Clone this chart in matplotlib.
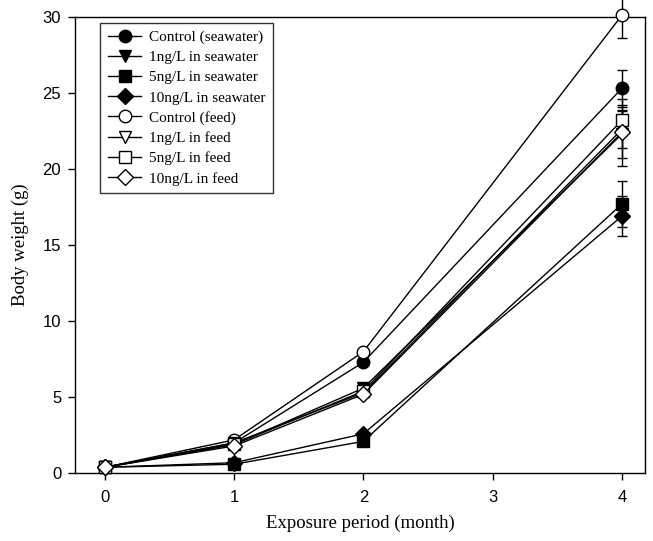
import matplotlib
matplotlib.use("Agg")
import matplotlib.pyplot as plt

months = [0, 1, 2, 4]
labels = ["Control (seawater)", "1ng/L in seawater", "5ng/L in seawater", "10ng/L in seawater",
          "Control (feed)", "1ng/L in feed", "5ng/L in feed", "10ng/L in feed"]
markers = ["o", "v", "s", "D", "o", "v", "s", "D"]
filled = [True, True, True, True, False, False, False, False]

ctrl_sw = [0.4, 2.0, 7.3, 25.3]
ng1_sw = [0.4, 1.9, 5.6, 22.3]
ng5_sw = [0.4, 0.6, 2.1, 17.7]
ng10_sw = [0.4, 0.7, 2.6, 16.9]
ctrl_fd = [0.4, 2.2, 8.0, 30.1]
ng1_fd = [0.4, 2.0, 5.3, 22.6]
ng5_fd = [0.4, 1.9, 5.4, 23.2]
ng10_fd = [0.4, 1.8, 5.2, 22.4]

err_ctrl_sw = [0, 0, 0, 1.2]
err_ng1_sw = [0, 0, 0, 1.6]
err_ng5_sw = [0, 0, 0, 1.5]
err_ng10_sw = [0, 0, 0, 1.3]
err_ctrl_fd = [0, 0, 0, 1.5]
err_ng1_fd = [0, 0, 0, 1.2]
err_ng5_fd = [0, 0, 0, 1.0]
err_ng10_fd = [0, 0, 0, 2.2]

series = [ctrl_sw, ng1_sw, ng5_sw, ng10_sw, ctrl_fd, ng1_fd, ng5_fd, ng10_fd]
errors = [err_ctrl_sw, err_ng1_sw, err_ng5_sw, err_ng10_sw, err_ctrl_fd, err_ng1_fd, err_ng5_fd, err_ng10_fd]

fig = plt.figure(figsize=(6.53, 5.41), dpi=100)
ax = fig.add_axes([0.115, 0.125, 0.873, 0.844])

for y, e, lab, m, f in zip(series, errors, labels, markers, filled):
    ms = 9 if m != "D" else 8
    ax.errorbar(months, y, yerr=e, color="black", lw=1.0, marker=m, ms=ms,
                mfc="black" if f else "white", mec="black", mew=1.0,
                capsize=3.5, elinewidth=1.0, capthick=1.0, label=lab, clip_on=False, zorder=3)

ax.set_xlim(-0.23, 4.18)
ax.set_ylim(0, 30)
ax.set_xticks([0, 1, 2, 3, 4])
ax.set_yticks([0, 5, 10, 15, 20, 25, 30])
ax.tick_params(direction="out", length=5, width=1, labelsize=12)
ax.tick_params(axis="x", pad=7)
ax.tick_params(axis="y", pad=5)
for t in ax.get_xticklabels() + ax.get_yticklabels():
    t.set_family("Liberation Sans")
for s in ax.spines.values():
    s.set_linewidth(1.0)

ax.set_xlabel("Exposure period (month)", family="Liberation Serif", fontsize=13.5, labelpad=7)
ax.set_ylabel("Body weight (g)", family="Liberation Serif", fontsize=13.5, labelpad=10)

handles, labs = ax.get_legend_handles_labels()
handles = [h[0] for h in handles]
leg = ax.legend(handles, labs, loc="upper left", bbox_to_anchor=(0.044, 0.987),
                borderaxespad=0,
                prop={"family": "Liberation Serif", "size": 11}, frameon=True,
                fancybox=False, edgecolor="black", handlelength=2.2, labelspacing=0.42,
                borderpad=0.5, handletextpad=0.5)
leg.get_frame().set_linewidth(1.0)

fig.savefig("out.png", dpi=100)
